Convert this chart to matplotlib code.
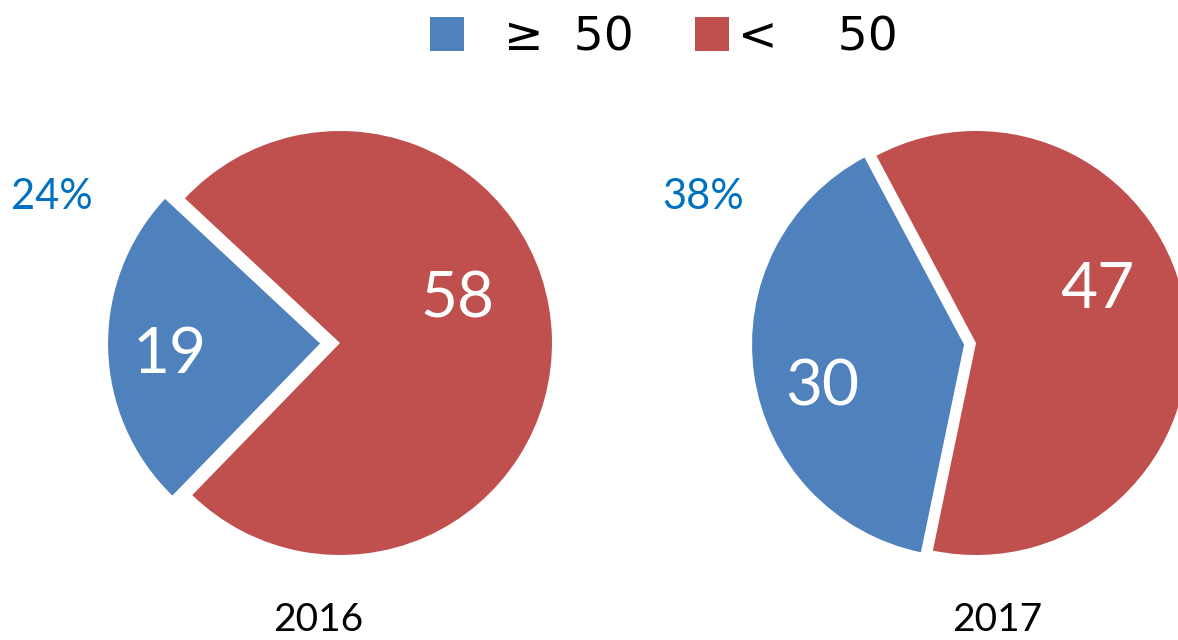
import matplotlib
matplotlib.use("Agg")
import matplotlib.pyplot as plt
from matplotlib.patches import Patch

# 数据
years = ["2016", "2017"]
ge50 = [19, 30]
lt50 = [58, 47]
pct_labels = ["24%", "38%"]
legend_labels = ["  \u2265  50", "<    50"]

blue = "#4F81BD"
red = "#C0504D"
pct_color = "#0070C0"

W, H = 1178, 640
fig = plt.figure(figsize=(W / 100, H / 100), dpi=100)
ax = fig.add_axes([0, 0, 1, 1])

# 饼图位置 (像素坐标, y 向上)
centers = [(340, H - 343), (976, H - 343)]
radius = 212
starts = [137, 118]
explodes = [0.094, 0.057]   # 相对半径
blue_txt = [(170, H - 355), (822, H - 388)]
red_txt = [(458, H - 300), (1097, H - 290)]
pct_pos = [(52, H - 197), (703, H - 197)]
year_pos = [(318, H - 620), (997, H - 620)]

for i in range(2):
    ax.pie([ge50[i], lt50[i]], colors=[blue, red], center=centers[i], radius=radius,
           startangle=starts[i], counterclock=True, explode=[explodes[i] * radius, 0],
           wedgeprops=dict(linewidth=0))
    ax.text(*blue_txt[i], str(ge50[i]), color="white", fontsize=46, family="Lato",
            ha="center", va="center")
    ax.text(*red_txt[i], str(lt50[i]), color="white", fontsize=46, family="Lato",
            ha="center", va="center")
    ax.text(*pct_pos[i], pct_labels[i], color=pct_color, fontsize=30, family="Lato",
            ha="center", va="center")
    ax.text(*year_pos[i], years[i], color="black", fontsize=28, family="Lato",
            ha="center", va="center")

ax.set_xlim(0, W)
ax.set_ylim(0, H)
ax.set_aspect("equal")
ax.axis("off")

handles = [Patch(facecolor=blue, edgecolor="none"), Patch(facecolor=red, edgecolor="none")]
fig.legend(handles, legend_labels, loc="center", bbox_to_anchor=(664 / W, 1 - 38 / H),
           ncol=2, frameon=False, prop=dict(family="DejaVu Sans", size=34),
           handlelength=0.72, handleheight=0.72, handletextpad=0.2, columnspacing=1.3,
           borderpad=0, borderaxespad=0)

fig.savefig("out.png", dpi=100)
